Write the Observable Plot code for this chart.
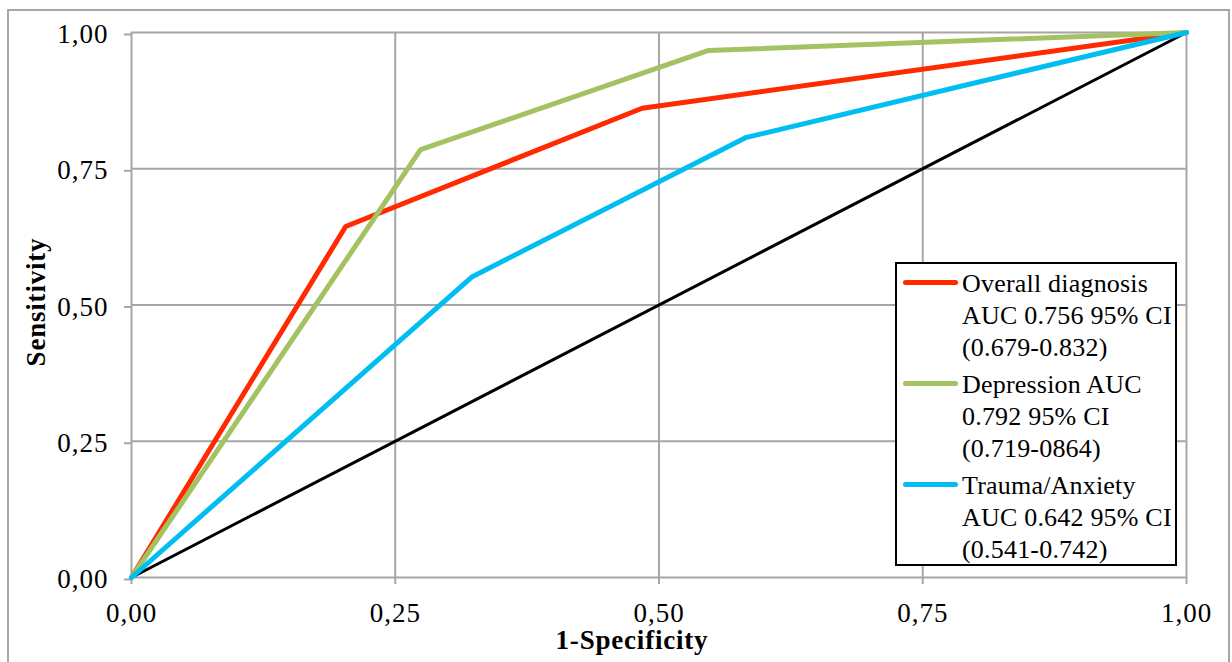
<!DOCTYPE html>
<html>
<head>
<meta charset="utf-8">
<script src="https://cdn.jsdelivr.net/npm/d3@7"></script>
<script src="https://cdn.jsdelivr.net/npm/@observablehq/plot@0.6"></script>
<style>
  html, body { margin: 0; padding: 0; background: #fff; overflow: hidden; }
  #wrap { position: relative; width: 1232px; height: 662px; font-family: "Liberation Serif", serif; color: #000; }
  #frame { position: absolute; left: 7px; top: 9px; width: 1223px; height: 700px; border: 2px solid #a6a6a6; box-sizing: border-box; }
  #chart { position: absolute; left: 0; top: 0; line-height: 0; }
  #chart svg { display: block; }
  .xtitle { position: absolute; left: 632px; top: 627px; transform: translateX(-50%); font-weight: bold; font-size: 27px; letter-spacing: 0.8px; line-height: 27px; white-space: nowrap; }
  .ytitle { position: absolute; left: 36px; top: 302px; transform: translate(-50%, -50%) rotate(-90deg); font-weight: bold; font-size: 27px; letter-spacing: 0.8px; line-height: 27px; white-space: nowrap; }
  #legend { position: absolute; left: 895px; top: 262px; width: 282px; height: 304px; border: 2px solid #000; box-sizing: border-box; background: #fff; padding-top: 4px; }
  .item { position: relative; height: 96px; margin-bottom: 5px; }
  .swatch { position: absolute; left: 6px; top: 11.5px; width: 55px; height: 5px; border-radius: 3px; }
  .label { position: absolute; left: 65px; top: 0; font-size: 26px; letter-spacing: 0.2px; line-height: 32px; white-space: nowrap; }
</style>
</head>
<body>
<div id="wrap">
  <div id="frame"></div>
  <div id="chart"></div>
  <div class="xtitle">1-Specificity</div>
  <div class="ytitle">Sensitivity</div>
  <div id="legend"></div>
</div>
<script>
// ---- Data ----
const tickValues = [0, 0.25, 0.5, 0.75, 1];

const referenceFpr = [0, 1];
const referenceTpr = [0, 1];

const overallFpr = [0, 0.203, 0.484, 1];
const overallTpr = [0, 0.644, 0.861, 1];

const depressionFpr = [0, 0.274, 0.547, 1];
const depressionTpr = [0, 0.785, 0.967, 1];

const traumaFpr = [0, 0.323, 0.582, 1];
const traumaTpr = [0, 0.552, 0.807, 1];

const seriesNames = ["Overall diagnosis", "Depression", "Trauma/Anxiety"];
const seriesLabels = [
  ["Overall diagnosis", "AUC 0.756 95% CI", "(0.679-0.832)"],
  ["Depression AUC", "0.792 95% CI", "(0.719-0864)"],
  ["Trauma/Anxiety", "AUC 0.642 95% CI", "(0.541-0.742)"]
];
const seriesColors = ["#ff2a00", "#a3c262", "#00bef2"];

// ---- Build tables ----
const toRows = (xs, ys, name) => xs.map((x, i) => ({x, y: ys[i], name}));
const refRows = toRows(referenceFpr, referenceTpr, "Reference");
const overallRows = toRows(overallFpr, overallTpr, seriesNames[0]);
const depressionRows = toRows(depressionFpr, depressionTpr, seriesNames[1]);
const traumaRows = toRows(traumaFpr, traumaTpr, seriesNames[2]);

const fmt = d => d3.format(".2f")(d).replace(".", ",");
const gridColor = "#a6a6a6";

const chart = Plot.plot({
  width: 1232,
  height: 662,
  marginLeft: 131,
  marginRight: 46,
  marginTop: 32,
  marginBottom: 85,
  style: {display: "block", fontFamily: "Liberation Serif, serif", fontSize: "27px", letterSpacing: "1px", background: "transparent", color: "#000"},
  x: {domain: [0, 1]},
  y: {domain: [0, 1]},
  marks: [
    Plot.gridX(tickValues, {stroke: gridColor, strokeOpacity: 1, strokeWidth: 2}),
    Plot.gridY(tickValues, {stroke: gridColor, strokeOpacity: 1, strokeWidth: 2}),
    Plot.axisX({ticks: tickValues, tickFormat: fmt, tickSize: 7, tickPadding: 18, stroke: gridColor, strokeWidth: 2, fill: "#000", fontSize: 27, label: null}),
    Plot.axisY({ticks: tickValues, tickFormat: fmt, tickSize: 7, tickPadding: 16, dy: 2, stroke: gridColor, strokeWidth: 2, fill: "#000", fontSize: 27, label: null}),
    Plot.line(refRows, {x: "x", y: "y", stroke: "#000", strokeWidth: 3}),
    Plot.line(overallRows, {x: "x", y: "y", stroke: seriesColors[0], strokeWidth: 5, strokeLinejoin: "round", strokeLinecap: "round"}),
    Plot.line(depressionRows, {x: "x", y: "y", stroke: seriesColors[1], strokeWidth: 5, strokeLinejoin: "round", strokeLinecap: "round"}),
    Plot.line(traumaRows, {x: "x", y: "y", stroke: seriesColors[2], strokeWidth: 5, strokeLinejoin: "round", strokeLinecap: "round"})
  ]
});
document.getElementById("chart").appendChild(chart);

// ---- Legend ----
const legend = document.getElementById("legend");
seriesLabels.forEach((lines, i) => {
  const item = document.createElement("div");
  item.className = "item";
  const sw = document.createElement("div");
  sw.className = "swatch";
  sw.style.background = seriesColors[i];
  const lab = document.createElement("div");
  lab.className = "label";
  lab.innerHTML = lines.join("<br>");
  item.appendChild(sw);
  item.appendChild(lab);
  legend.appendChild(item);
});
</script>
</body>
</html>
